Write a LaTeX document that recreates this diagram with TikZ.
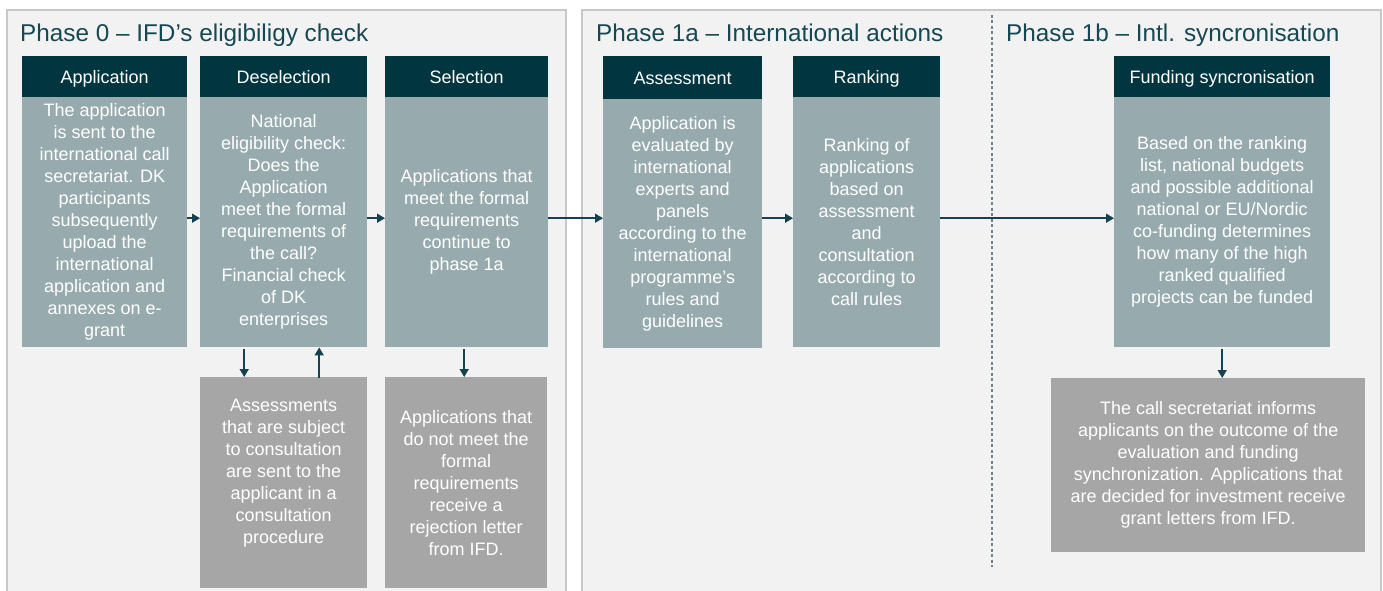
\documentclass[tikz,border=0pt]{standalone}
\usepackage{fontspec}
\setmainfont{Liberation Sans}
\usetikzlibrary{arrows.meta}
\definecolor{hdr}{RGB}{1,54,64}
\definecolor{bodyc}{RGB}{151,170,174}
\definecolor{lowc}{RGB}{166,166,166}
\definecolor{panelbg}{RGB}{242,242,242}
\definecolor{panelln}{RGB}{200,200,200}
\definecolor{titlec}{RGB}{22,72,84}
\definecolor{arrc}{RGB}{20,66,78}
\definecolor{dashc}{RGB}{110,130,140}
\begin{document}
\begin{tikzpicture}[x=1pt,y=-1pt,
 panel/.style={fill=panelbg,draw=panelln,line width=1.5pt},
 hdrbox/.style={fill=hdr,text=white,anchor=north west,minimum height=41pt,inner sep=0pt,text height=15pt,text depth=1pt,font=\fontsize{18}{22}\selectfont},
 bodybox/.style={fill=bodyc,text=white,anchor=north west,minimum height=250pt,inner sep=0pt,align=center,font=\fontsize{18}{22}\selectfont},
 lowbox/.style={fill=lowc,text=white,anchor=north west,inner sep=0pt,align=center,font=\fontsize{18}{22}\selectfont},
 txt/.style={text=white,inner sep=0pt,align=center,font=\fontsize{18}{22}\selectfont},
 ttl/.style={anchor=base west,text=titlec,font=\fontsize{24.3}{28}\selectfont,inner sep=0pt},
 arr/.style={draw=arrc,line width=1.5pt,-{Triangle[length=8pt,width=9pt]}}]
\useasboundingbox (0,0) rectangle (1383,591);
\fill[white] (0,0) rectangle (1383,591);
% panels
\draw[panel] (7,10) rectangle (566,610);
\draw[panel] (582,10) rectangle (1381,610);
\draw[dashc,line width=1.2pt,dash pattern=on 3pt off 2.5pt] (992,15) -- (992,567);
% titles
\node[ttl] (t0) at (20,42) {Phase 0 – IFD’s eligibiligy check};
\node[ttl] (t1) at (596,42) {Phase 1a – International actions};
\node[ttl] (t2) at (1006,42) {Phase 1b – Intl. syncronisation};
% headers
\node[hdrbox,minimum width=165pt] (appH) at (22,56) {Application};
\node[hdrbox,minimum width=167pt] (desH) at (200,56) {Deselection};
\node[hdrbox,minimum width=163pt] (selH) at (385,56) {Selection};
\node[hdrbox,minimum width=159pt,minimum height=43pt] (assH) at (603,56) {Assessment};
\node[hdrbox,minimum width=147pt] (ranH) at (793,56) {Ranking};
\node[hdrbox,minimum width=216pt] (funH) at (1114,56) {Funding syncronisation};
% bodies
\node[bodybox,minimum width=165pt] (appB) at (22,97) {The application\\is sent to the\\international call\\secretariat. DK\\participants\\subsequently\\upload the\\international\\application and\\annexes on e-\\grant};
\node[bodybox,minimum width=167pt] (desB) at (200,97) {National\\eligibility check:\\Does the\\Application\\meet the formal\\requirements of\\the call?\\Financial check\\of DK\\enterprises};
\node[bodybox,minimum width=163pt] (selB) at (385,97) {Applications that\\meet the formal\\requirements\\continue to\\phase 1a};
\node[bodybox,minimum width=159pt,minimum height=249pt] (assB) at (603,99) {Application is\\evaluated by\\international\\experts and\\panels\\according to the\\international\\programme’s\\rules and\\guidelines};
\node[bodybox,minimum width=147pt] (ranB) at (793,97) {Ranking of\\applications\\based on\\assessment\\and\\consultation\\according to\\call rules};
\node[bodybox,minimum width=216pt] (funB) at (1114,97) {Based on the ranking\\list, national budgets\\and possible additional\\national or EU/Nordic\\co-funding determines\\how many of the high\\ranked qualified\\projects can be funded};
% lower boxes
\node[lowbox,minimum width=167pt,minimum height=211pt] (cons) at (200,377) {};
\node[txt] (consT) at ([yshift=9.5pt]cons.center) {Assessments\\that are subject\\to consultation\\are sent to the\\applicant in a\\consultation\\procedure};
\node[lowbox,minimum width=162pt,minimum height=211pt] (rej) at (385,377) {Applications that\\do not meet the\\formal\\requirements\\receive a\\rejection letter\\from IFD.};
\node[lowbox,minimum width=314pt,minimum height=174pt] (fin) at (1051,378) {The call secretariat informs\\applicants on the outcome of the\\evaluation and funding\\synchronization. Applications that\\are decided for investment receive\\grant letters from IFD.};
% horizontal flow
\draw[arr] ([yshift=4pt]appB.east) -- ([yshift=4pt]appB.east -| desB.west);
\draw[arr] ([yshift=4pt]desB.east) -- ([yshift=4pt]desB.east -| selB.west);
\draw[arr] ([yshift=4pt]selB.east) -- ([yshift=4pt]selB.east -| assB.west);
\draw[arr] ([yshift=4pt]selB.east -| assB.east) -- ([yshift=4pt]selB.east -| ranB.west);
\draw[arr] ([yshift=4pt]ranB.east) -- ([yshift=4pt]ranB.east -| funB.west);
% vertical arrows
\draw[arr] ([xshift=-39.5pt,yshift=-2pt]desB.south) -- ([xshift=-39.5pt]cons.north);
\draw[arr] ([xshift=35.5pt,yshift=-1pt]cons.north) -- ([xshift=35.5pt]desB.south);
\draw[arr] ([xshift=-2.5pt,yshift=-2pt]selB.south) -- ([xshift=-2.5pt]selB.south |- rej.north);
\draw[arr] ([yshift=-2pt]funB.south) -- (funB.south |- fin.north);
\end{tikzpicture}
\end{document}
